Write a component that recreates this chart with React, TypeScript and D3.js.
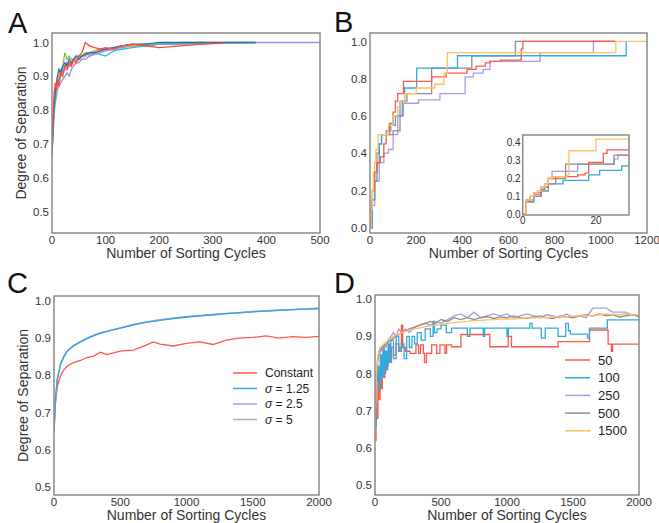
import React from "react";
import * as d3 from "d3";

// ---- Panel A: separation of 7 runs, first 500 cycles
const xA = [0, 2, 4, 6, 8, 10, 13, 16, 20, 24, 28, 32, 36, 40, 45, 50, 56, 62, 70, 80, 90, 100, 115, 130, 150, 175, 200, 240, 280, 320, 380, 500];
const redA = [0.68, 0.77, 0.85, 0.88, 0.86, 0.89, 0.87, 0.91, 0.9, 0.93, 0.92, 0.94, 0.93, 0.95, 0.94, 0.96, 0.97, 1.0, 0.99, 0.985, 0.98, 0.985, 0.98, 0.99, 0.995, 0.99, 0.985, 0.99, 0.995, 0.998];
const orangeA = [0.7, 0.78, 0.83, 0.86, 0.88, 0.87, 0.9, 0.92, 0.91, 0.93, 0.94, 0.93, 0.94, 0.95, 0.94, 0.95, 0.96, 0.96, 0.97, 0.975, 0.98, 0.98, 0.985, 0.99, 0.99, 0.995, 0.995, 1.0, 1.0];
const greenA = [0.66, 0.74, 0.8, 0.85, 0.87, 0.88, 0.9, 0.9, 0.93, 0.97, 0.95, 0.96, 0.95, 0.95, 0.96, 0.96, 0.96, 0.97, 0.97, 0.975, 0.98, 0.98, 0.985, 0.99, 0.99, 0.995, 0.995, 0.998, 0.997, 0.998, 0.999];
const blueA = [0.67, 0.75, 0.82, 0.85, 0.88, 0.9, 0.92, 0.91, 0.93, 0.94, 0.93, 0.95, 0.94, 0.95, 0.96, 0.95, 0.96, 0.965, 0.97, 0.97, 0.975, 0.98, 0.985, 0.99, 0.995, 0.995, 1.0, 1.0, 1.0, 1.0, 1.0];
const cyanA = [0.69, 0.76, 0.8, 0.84, 0.86, 0.88, 0.89, 0.9, 0.92, 0.93, 0.94, 0.935, 0.94, 0.95, 0.95, 0.955, 0.96, 0.965, 0.965, 0.97, 0.965, 0.96, 0.975, 0.98, 0.985, 0.99, 0.995, 0.995, 1.0];
const purpleA = [0.67, 0.73, 0.79, 0.82, 0.84, 0.86, 0.87, 0.88, 0.89, 0.9, 0.91, 0.9, 0.92, 0.93, 0.94, 0.94, 0.95, 0.95, 0.96, 0.965, 0.97, 0.975, 0.98, 0.985, 0.99, 0.99, 0.995, 0.998, 1.0, 1.0, 1.0, 1.0];
const pinkA = [0.7, 0.76, 0.81, 0.84, 0.86, 0.87, 0.88, 0.9, 0.91, 0.92, 0.92, 0.93, 0.93, 0.94, 0.95, 0.95, 0.95, 0.96, 0.96, 0.97, 0.975, 0.98, 0.985, 0.99, 0.99, 0.99, 0.995, 0.993, 0.995, 0.998];

// ---- Panel B: step curves (x, y pairs per run)
const orangeBx = [0, 5, 10, 15, 20, 25, 35, 60, 80, 100, 120, 130, 150, 200, 280, 320, 335, 1065, 1200];
const orangeBy = [0, 0.1, 0.2, 0.3, 0.35, 0.42, 0.5, 0.5, 0.55, 0.6, 0.65, 0.68, 0.72, 0.75, 0.77, 0.83, 0.94, 1.0, 1.0];
const redBx = [0, 5, 10, 20, 30, 45, 60, 70, 85, 100, 110, 120, 145, 267, 330, 420, 460, 500, 520, 564, 655, 662, 1063];
const redBy = [0, 0.1, 0.2, 0.3, 0.35, 0.38, 0.45, 0.5, 0.56, 0.62, 0.68, 0.72, 0.785, 0.81, 0.83, 0.85, 0.867, 0.885, 0.893, 0.9, 0.96, 1.0, 1.0];
const cyanBx = [0, 10, 20, 30, 40, 50, 70, 90, 110, 130, 150, 202, 379, 1110, 1112];
const cyanBy = [0, 0.15, 0.25, 0.35, 0.45, 0.5, 0.52, 0.55, 0.6, 0.68, 0.75, 0.857, 0.923, 1.0, 1.0];
const grayBx = [0, 10, 20, 30, 40, 50, 100, 130, 140, 160, 267, 441, 630, 1063];
const grayBy = [0, 0.15, 0.3, 0.4, 0.45, 0.5, 0.52, 0.6, 0.68, 0.72, 0.857, 0.923, 1.0, 1.0];
const purpleBx = [0, 10, 20, 40, 60, 80, 100, 120, 145, 210, 303, 412, 448, 490, 520, 737, 968, 1063];
const purpleBy = [0, 0.12, 0.25, 0.35, 0.4, 0.42, 0.5, 0.6, 0.668, 0.686, 0.72, 0.81, 0.83, 0.85, 0.893, 0.94, 1.0, 1.0];

// inset of panel B: first 29 cycles
const orangeIx = [0, 1, 2, 3, 4, 5, 6, 7, 8, 11, 12, 12.6, 20, 29];
const orangeIy = [0, 0.08, 0.1, 0.12, 0.13, 0.15, 0.17, 0.2, 0.21, 0.21, 0.22, 0.355, 0.42, 0.42];
const redIx = [0, 1, 2, 3, 5, 7, 9, 13, 15, 17, 18, 21, 22, 23, 29];
const redIy = [0, 0.08, 0.1, 0.12, 0.15, 0.2, 0.21, 0.21, 0.22, 0.23, 0.29, 0.29, 0.34, 0.36, 0.36];
const grayIx = [0, 1, 3, 5, 7, 9, 11.7, 24.9, 29];
const grayIy = [0, 0.07, 0.1, 0.13, 0.17, 0.2, 0.28, 0.33, 0.33];
const purpleIx = [0, 1, 3, 5, 7, 8, 13, 15, 24, 25, 26, 29];
const purpleIy = [0, 0.08, 0.11, 0.15, 0.2, 0.24, 0.24, 0.28, 0.28, 0.31, 0.33, 0.33];
const cyanIx = [0, 1, 3, 5, 6, 10, 11, 17, 18, 20, 21, 26, 27, 29];
const cyanIy = [0, 0.07, 0.1, 0.14, 0.17, 0.17, 0.19, 0.19, 0.22, 0.22, 0.245, 0.245, 0.27, 0.27];

// ---- Panel C: constant vs sigma
const xC = [0, 10, 25, 50, 75, 100, 150, 200, 250, 300, 350, 400, 500, 600, 700, 750, 800, 900, 1000, 1100, 1200, 1300, 1400, 1500, 1600, 1700, 1800, 1900, 2000];
const constC = [0.65, 0.72, 0.77, 0.8, 0.815, 0.825, 0.835, 0.84, 0.848, 0.852, 0.862, 0.856, 0.865, 0.868, 0.882, 0.89, 0.884, 0.879, 0.886, 0.89, 0.883, 0.895, 0.9, 0.902, 0.906, 0.9, 0.904, 0.902, 0.905];
const sigma125C = [0.65, 0.73, 0.79, 0.83, 0.85, 0.865, 0.88, 0.89, 0.899, 0.907, 0.913, 0.918, 0.927, 0.936, 0.943, 0.945, 0.948, 0.953, 0.957, 0.96, 0.963, 0.966, 0.969, 0.971, 0.973, 0.975, 0.977, 0.978, 0.98];
const sigma25C = [0.65, 0.73, 0.79, 0.832, 0.852, 0.866, 0.881, 0.891, 0.9, 0.908, 0.914, 0.919, 0.928, 0.937, 0.944, 0.947, 0.95, 0.954, 0.958, 0.961, 0.964, 0.967, 0.969, 0.972, 0.974, 0.976, 0.977, 0.979, 0.981];
const sigma5C = [0.65, 0.73, 0.79, 0.83, 0.851, 0.866, 0.88, 0.89, 0.9, 0.907, 0.914, 0.918, 0.927, 0.936, 0.943, 0.946, 0.949, 0.953, 0.957, 0.96, 0.963, 0.966, 0.968, 0.971, 0.973, 0.975, 0.977, 0.978, 0.978];
const legendC = ["Constant", "σ = 1.25", "σ = 2.5", "σ = 5"];

// ---- Panel D: population sizes
const red50x = [0, 8, 15, 22, 30, 38, 45, 55, 65, 75, 85, 95, 110, 125, 140, 160, 180, 190, 200, 210, 230, 265, 310, 330, 345, 366, 375, 390, 429, 467, 492, 530, 542, 580, 651, 870, 1009, 1034, 1387, 1625, 1766, 1791, 1800, 2000];
const red50y = [0.62, 0.72, 0.68, 0.78, 0.73, 0.8, 0.76, 0.83, 0.79, 0.85, 0.81, 0.86, 0.83, 0.87, 0.85, 0.88, 0.86, 0.87, 0.93, 0.87, 0.86, 0.854, 0.877, 0.854, 0.877, 0.854, 0.83, 0.854, 0.877, 0.854, 0.877, 0.854, 0.877, 0.872, 0.905, 0.872, 0.9, 0.872, 0.886, 0.917, 0.879, 0.86, 0.879, 0.879];
const cyan100x = [0, 10, 20, 30, 40, 50, 60, 70, 80, 90, 100, 110, 120, 140, 160, 180, 200, 220, 240, 260, 280, 300, 320, 350, 380, 420, 440, 450, 470, 500, 540, 580, 700, 720, 820, 830, 1000, 1010, 1173, 1190, 1260, 1290, 1387, 1445, 1465, 1480, 1610, 1625, 1760, 2000];
const cyan100y = [0.66, 0.78, 0.82, 0.76, 0.85, 0.79, 0.87, 0.8, 0.86, 0.82, 0.88, 0.83, 0.89, 0.84, 0.9, 0.86, 0.88, 0.84, 0.9, 0.87, 0.9, 0.88, 0.91, 0.89, 0.92, 0.9, 0.94, 0.91, 0.92, 0.93, 0.91, 0.922, 0.9, 0.922, 0.9, 0.922, 0.9, 0.922, 0.935, 0.922, 0.895, 0.922, 0.9, 0.935, 0.915, 0.906, 0.895, 0.922, 0.944, 0.944];
const xD = [0, 10, 20, 30, 40, 55, 70, 85, 100, 120, 140, 160, 180, 200, 230, 260, 300, 340, 380, 420, 460, 500, 550, 600, 650, 700, 750, 800, 850, 900, 950, 1000, 1050, 1100, 1150, 1200, 1250, 1300, 1350, 1400, 1450, 1500, 1550, 1600, 1650, 1700, 1750, 1800, 1850, 1900, 1950, 2000];
const purple250 = [0.64, 0.8, 0.84, 0.86, 0.87, 0.86, 0.88, 0.87, 0.89, 0.9, 0.91, 0.9, 0.92, 0.91, 0.92, 0.91, 0.925, 0.93, 0.935, 0.93, 0.94, 0.935, 0.945, 0.955, 0.96, 0.95, 0.965, 0.95, 0.955, 0.96, 0.955, 0.96, 0.95, 0.955, 0.96, 0.955, 0.95, 0.958, 0.955, 0.95, 0.96, 0.952, 0.955, 0.95, 0.976, 0.976, 0.976, 0.965, 0.965, 0.965, 0.957, 0.955];
const gray500 = [0.63, 0.78, 0.83, 0.85, 0.86, 0.87, 0.875, 0.88, 0.885, 0.89, 0.895, 0.9, 0.905, 0.91, 0.915, 0.92, 0.925, 0.93, 0.935, 0.94, 0.935, 0.945, 0.94, 0.95, 0.945, 0.95, 0.945, 0.95, 0.953, 0.948, 0.952, 0.95, 0.955, 0.95, 0.948, 0.952, 0.955, 0.95, 0.948, 0.955, 0.952, 0.95, 0.955, 0.958, 0.955, 0.96, 0.955, 0.958, 0.952, 0.955, 0.958, 0.953];
const orange1500 = [0.62, 0.8, 0.84, 0.86, 0.87, 0.875, 0.88, 0.885, 0.89, 0.895, 0.9, 0.903, 0.906, 0.91, 0.913, 0.916, 0.92, 0.923, 0.926, 0.928, 0.93, 0.932, 0.935, 0.937, 0.939, 0.94, 0.942, 0.943, 0.944, 0.945, 0.946, 0.947, 0.946, 0.948, 0.95, 0.949, 0.951, 0.95, 0.952, 0.953, 0.952, 0.954, 0.955, 0.956, 0.955, 0.958, 0.96, 0.959, 0.958, 0.96, 0.958, 0.957];
const legendD = ["50", "100", "250", "500", "1500"];

const RED = "#fb5a48";
const CYAN = "#35a8dc";
const PURPLE = "#a99ae8";
const GRAY = "#8e8e8e";
const ORANGE = "#ffbf5e";
const FONT = "'Liberation Sans', Arial, sans-serif";

const zip = (xs, ys) => ys.map((v, i) => [xs[i], v]);

const Panel = ({ box, xDomain, yDomain, xTicks, yTicks, series, letter, yLabel, tickSize = 11.5, xLabel = true, labelDx = 3 }) => {
  const [left, right, top, bottom] = box;
  const x = d3.scaleLinear().domain(xDomain).range([left, right]);
  const y = d3.scaleLinear().domain(yDomain).range([bottom, top]);
  return (
    <g fontFamily={FONT}>
      <defs>
        <clipPath id={"clip" + left + top}>
          <rect x={left} y={top} width={right - left} height={bottom - top} />
        </clipPath>
      </defs>
      <g clipPath={`url(#clip${left}${top})`}>
        {series.map((s, i) => {
          const line = d3.line().x((d) => x(d[0])).y((d) => y(d[1])).curve(s.step ? d3.curveStepAfter : d3.curveLinear);
          return <path key={i} d={line(s.points)} fill="none" stroke={s.color} strokeWidth={s.width || 1.3} />;
        })}
      </g>
      <rect x={left} y={top} width={right - left} height={bottom - top} fill="none" stroke="#8a8a8a" strokeWidth={1.5} />
      {yTicks.map((t) => (
        <text key={"y" + t} x={left - labelDx} y={y(t)} dy="0.36em" textAnchor="end" fontSize={tickSize} fill="#333">
          {t.toFixed(1)}
        </text>
      ))}
      {xTicks.map((t) => (
        <text key={"x" + t} x={x(t)} y={bottom + tickSize - 1} textAnchor="middle" fontSize={tickSize} fill="#333">
          {t}
        </text>
      ))}
      {xLabel && (
        <text x={(left + right) / 2} y={bottom + 25} textAnchor="middle" fontSize={14} fill="#333">
          Number of Sorting Cycles
        </text>
      )}
      {yLabel && (
        <text transform={`translate(${left - 26},${(top + bottom) / 2}) rotate(-90)`} textAnchor="middle" fontSize={14} fill="#333">
          Degree of Separation
        </text>
      )}
      {letter && (
        <text x={letter[1]} y={letter[2]} fontSize={29} fill="#111">
          {letter[0]}
        </text>
      )}
    </g>
  );
};

const Legend = ({ items, colors, x0, y0, step, len, fontSize, italic }) => (
  <g fontFamily={FONT}>
    {items.map((d, i) => (
      <g key={d} transform={`translate(${x0},${y0 + i * step})`}>
        <line x1={0} x2={len} y1={0} y2={0} stroke={colors[i]} strokeWidth={1.5} />
        <text x={len + 8} y={0} dy="0.36em" fontSize={fontSize} fill="#222">
          {italic && d.startsWith("σ") ? (
            <>
              <tspan fontStyle="italic">σ</tspan>
              {d.slice(1)}
            </>
          ) : (
            d
          )}
        </text>
      </g>
    ))}
  </g>
);

export default function App() {
  const seriesA = [
    { color: "#ffa9bb", points: zip(xA, pinkA) },
    { color: "#9a8ee0", points: zip(xA, purpleA) },
    { color: "#7cc04e", points: zip(xA, greenA) },
    { color: "#ff9a3c", points: zip(xA, orangeA) },
    { color: "#33b5e5", points: zip(xA, cyanA) },
    { color: "#1f72b0", points: zip(xA, blueA) },
    { color: "#ff4a38", points: zip(xA, redA) },
  ];
  const seriesB = [
    { color: PURPLE, points: zip(purpleBx, purpleBy), step: true },
    { color: GRAY, points: zip(grayBx, grayBy), step: true },
    { color: CYAN, points: zip(cyanBx, cyanBy), step: true },
    { color: RED, points: zip(redBx, redBy), step: true },
    { color: ORANGE, points: zip(orangeBx, orangeBy), step: true },
  ];
  const seriesI = [
    { color: CYAN, points: zip(cyanIx, cyanIy), step: true },
    { color: PURPLE, points: zip(purpleIx, purpleIy), step: true },
    { color: GRAY, points: zip(grayIx, grayIy), step: true },
    { color: RED, points: zip(redIx, redIy), step: true },
    { color: ORANGE, points: zip(orangeIx, orangeIy), step: true },
  ];
  const seriesC = [
    { color: RED, points: zip(xC, constC) },
    { color: "#b0b0b0", points: zip(xC, sigma5C) },
    { color: PURPLE, points: zip(xC, sigma25C) },
    { color: CYAN, points: zip(xC, sigma125C) },
  ];
  const seriesD = [
    { color: RED, points: zip(red50x, red50y), step: true },
    { color: CYAN, points: zip(cyan100x, cyan100y), step: true },
    { color: PURPLE, points: zip(xD, purple250) },
    { color: GRAY, points: zip(xD, gray500) },
    { color: ORANGE, points: zip(xD, orange1500) },
  ];

  return (
    <svg width={659} height={523} style={{ position: "absolute", left: 0, top: 0, background: "#fff" }}>
      <rect width={659} height={523} fill="#fff" />
      <Panel
        box={[52, 320, 33, 233]}
        xDomain={[0, 500]}
        yDomain={[0.437, 1.028]}
        xTicks={[0, 100, 200, 300, 400, 500]}
        yTicks={[0.5, 0.6, 0.7, 0.8, 0.9, 1.0]}
        series={seriesA}
        letter={["A", 8, 33]}
        yLabel
      />
      <Panel
        box={[370, 647, 33, 233]}
        xDomain={[0, 1200]}
        yDomain={[-0.028, 1.045]}
        xTicks={[0, 200, 400, 600, 800, 1000, 1200]}
        yTicks={[0, 0.2, 0.4, 0.6, 0.8, 1.0]}
        series={seriesB}
        letter={["B", 334, 32]}
      />
      <rect x={522.7} y={135} width={106.3} height={80} fill="#fff" />
      <Panel
        box={[522.7, 629, 135, 215]}
        xDomain={[0, 29]}
        yDomain={[-0.004, 0.443]}
        xTicks={[0, 20]}
        yTicks={[0, 0.1, 0.2, 0.3, 0.4]}
        series={seriesI}
        tickSize={10}
        xLabel={false}
        labelDx={2}
      />
      <Panel
        box={[54, 319, 296, 495]}
        xDomain={[0, 2000]}
        yDomain={[0.478, 1.0135]}
        xTicks={[0, 500, 1000, 1500, 2000]}
        yTicks={[0.5, 0.6, 0.7, 0.8, 0.9, 1.0]}
        series={seriesC}
        letter={["C", 7, 293]}
        yLabel
      />
      <Legend items={legendC} colors={[RED, CYAN, PURPLE, "#b0b0b0"]} x0={233} y0={373} step={15.5} len={24} fontSize={12} italic />
      <Panel
        box={[375, 639, 295, 495]}
        xDomain={[0, 2000]}
        yDomain={[0.474, 1.011]}
        xTicks={[0, 500, 1000, 1500, 2000]}
        yTicks={[0.5, 0.6, 0.7, 0.8, 0.9, 1.0]}
        series={seriesD}
        letter={["D", 334, 293]}
      />
      <Legend items={legendD} colors={[RED, CYAN, PURPLE, GRAY, ORANGE]} x0={565} y0={360} step={17.7} len={25} fontSize={13} />
    </svg>
  );
}
